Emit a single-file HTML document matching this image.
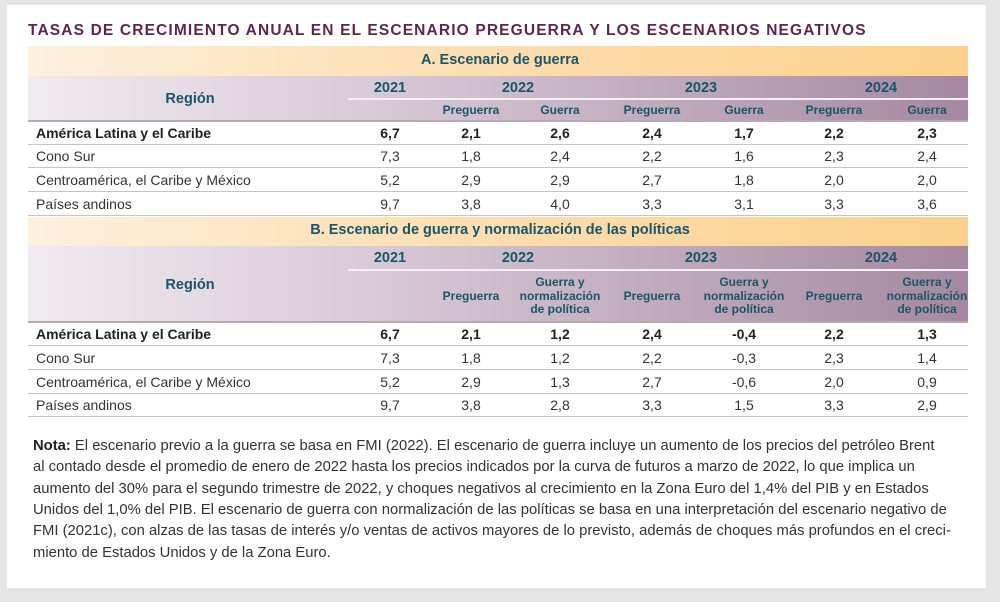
<!DOCTYPE html>
<html><head><meta charset="utf-8"><style>
body{margin:0;width:1000px;height:602px;background:#e5e5e5;position:relative;overflow:hidden;font-family:"Liberation Sans",sans-serif;}
.card{position:absolute;left:7px;top:5px;width:979px;height:583px;background:#fff;}
.a{position:absolute;white-space:nowrap;}
.t{left:28px;top:22px;font-size:15.5px;font-weight:bold;letter-spacing:1.15px;color:#5e2553;}
.or{position:absolute;left:28px;width:940px;background:linear-gradient(90deg,#fdf0de 0%,#fde0b5 40%,#fcd08c 100%);}
.pu{position:absolute;left:28px;width:940px;background:linear-gradient(90deg,#f0ebf0 0%,#d2c2d0 45%,#a5889f 100%);border-bottom:2px solid #b8a8b6;box-sizing:border-box;}
.hd{color:#17566b;font-weight:bold;}
.c{text-align:center;transform:translateX(-50%);}
.sec{font-size:14.5px;}
.yr{font-size:14.5px;}
.sub{font-size:12px;line-height:13.5px;}
.row{position:absolute;left:28px;width:940px;border-bottom:1.5px solid #c9c2c8;}
.v{font-size:14px;color:#333;}
.b{font-weight:bold;color:#222;}
.div{position:absolute;left:348px;width:620px;height:1.5px;background:#f4f0f4;}
.nl{left:33px;font-size:14.8px;letter-spacing:0;color:#333;}
</style></head><body>
<div class="card"></div>
<div class="a t">TASAS DE CRECIMIENTO ANUAL EN EL ESCENARIO PREGUERRA Y LOS ESCENARIOS NEGATIVOS</div>

<div class="or" style="top:46px;height:30px"></div>
<div class="a hd sec c" style="left:500px;top:52px">A. Escenario de guerra</div>
<div class="pu" style="top:76px;height:46px"></div>
<div class="div" style="top:98px"></div>
<div class="a hd yr c" style="left:190px;top:91px">Región</div>
<div class="a hd yr c" style="left:390px;top:80px">2021</div>
<div class="a hd yr c" style="left:518px;top:80px">2022</div>
<div class="a hd yr c" style="left:701px;top:80px">2023</div>
<div class="a hd yr c" style="left:881px;top:80px">2024</div>
<div class="a hd sub c" style="left:471px;top:104px">Preguerra</div>
<div class="a hd sub c" style="left:560px;top:104px">Guerra</div>
<div class="a hd sub c" style="left:652px;top:104px">Preguerra</div>
<div class="a hd sub c" style="left:744px;top:104px">Guerra</div>
<div class="a hd sub c" style="left:834px;top:104px">Preguerra</div>
<div class="a hd sub c" style="left:927px;top:104px">Guerra</div>

<div class="row" style="top:122px;height:22px"></div>
<div class="row" style="top:145px;height:22px"></div>
<div class="row" style="top:169px;height:22px"></div>
<div class="row" style="top:193px;height:22px"></div>

<div class="or" style="top:217px;height:29px"></div>
<div class="a hd sec c" style="left:500px;top:222px">B. Escenario de guerra y normalización de las políticas</div>
<div class="pu" style="top:246px;height:77px"></div>
<div class="div" style="top:269px"></div>
<div class="a hd yr c" style="left:190px;top:277px">Región</div>
<div class="a hd yr c" style="left:390px;top:250px">2021</div>
<div class="a hd yr c" style="left:518px;top:250px">2022</div>
<div class="a hd yr c" style="left:701px;top:250px">2023</div>
<div class="a hd yr c" style="left:881px;top:250px">2024</div>
<div class="a hd sub c" style="left:471px;top:290px">Preguerra</div>
<div class="a hd sub c" style="left:560px;top:276px">Guerra y<br>normalización<br>de política</div>
<div class="a hd sub c" style="left:652px;top:290px">Preguerra</div>
<div class="a hd sub c" style="left:744px;top:276px">Guerra y<br>normalización<br>de política</div>
<div class="a hd sub c" style="left:834px;top:290px">Preguerra</div>
<div class="a hd sub c" style="left:927px;top:276px">Guerra y<br>normalización<br>de política</div>

<div class="row" style="top:323px;height:22px"></div>
<div class="row" style="top:346px;height:23px"></div>
<div class="row" style="top:371px;height:22px"></div>
<div class="row" style="top:395px;height:21px"></div>

<div id="rows"></div>
<script>
var data=[
[125,1,"América Latina y el Caribe",["6,7","2,1","2,6","2,4","1,7","2,2","2,3"]],
[148,0,"Cono Sur",["7,3","1,8","2,4","2,2","1,6","2,3","2,4"]],
[172,0,"Centroamérica, el Caribe y México",["5,2","2,9","2,9","2,7","1,8","2,0","2,0"]],
[196,0,"Países andinos",["9,7","3,8","4,0","3,3","3,1","3,3","3,6"]],
[326,1,"América Latina y el Caribe",["6,7","2,1","1,2","2,4","-0,4","2,2","1,3"]],
[350,0,"Cono Sur",["7,3","1,8","1,2","2,2","-0,3","2,3","1,4"]],
[374,0,"Centroamérica, el Caribe y México",["5,2","2,9","1,3","2,7","-0,6","2,0","0,9"]],
[397,0,"Países andinos",["9,7","3,8","2,8","3,3","1,5","3,3","2,9"]]];
var xs=[390,471,560,652,744,834,927],h="";
data.forEach(function(r){
 var cls="a v"+(r[1]?" b":"");
 h+='<div class="'+cls+'" style="left:36px;top:'+r[0]+'px">'+r[2]+'</div>';
 r[3].forEach(function(v,i){h+='<div class="'+cls+' c" style="left:'+xs[i]+'px;top:'+r[0]+'px">'+v+'</div>';});
});
document.getElementById('rows').innerHTML=h;
</script>

<div class="a nl" style="top:438px"><b style="color:#222">Nota:</b> El escenario previo a la guerra se basa en FMI (2022). El escenario de guerra incluye un aumento de los precios del petróleo Brent</div>
<div class="a nl" style="top:459px">al contado desde el promedio de enero de 2022 hasta los precios indicados por la curva de futuros a marzo de 2022, lo que implica un</div>
<div class="a nl" style="top:481px">aumento del 30% para el segundo trimestre de 2022, y choques negativos al crecimiento en la Zona Euro del 1,4% del PIB y en Estados</div>
<div class="a nl" style="top:502px">Unidos del 1,0% del PIB. El escenario de guerra con normalización de las políticas se basa en una interpretación del escenario negativo de</div>
<div class="a nl" style="top:523px">FMI (2021c), con alzas de las tasas de interés y/o ventas de activos mayores de lo previsto, además de choques más profundos en el creci-</div>
<div class="a nl" style="top:545px">miento de Estados Unidos y de la Zona Euro.</div>
</body></html>
